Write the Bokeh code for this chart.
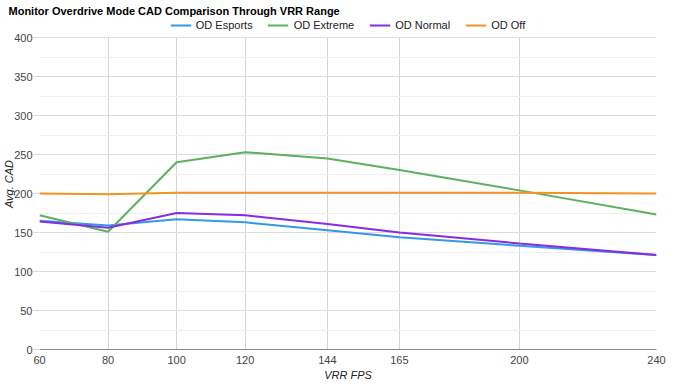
from bokeh.plotting import figure
from bokeh.models import Range1d, FixedTicker, SingleIntervalTicker, Legend, LegendItem
from bokeh.embed import file_html
from bokeh.resources import INLINE

fps = [60, 80, 100, 120, 144, 165, 200, 240]
od_esports = [165, 159, 167, 163, 153, 144, 133, 121]
od_extreme = [172, 151, 240, 253, 245, 230, 204, 173]
od_normal = [164, 156, 175, 172, 161, 150, 136, 121]
od_off = [200, 199, 201, 201, 201, 201, 201, 200]
y_ticks_max = 400

series = [
    ("OD Esports", od_esports, "#3399e6"),
    ("OD Extreme", od_extreme, "#5cb15c"),
    ("OD Normal", od_normal, "#8a2be2"),
    ("OD Off", od_off, "#f29322"),
]

FONT = "Liberation Sans"
FW, FH = 617, 331
HEAD = 19  # px of frame reserved above the 400 line for the legend
y_top = y_ticks_max * FH / (FH - HEAD)

p = figure(frame_width=FW, frame_height=FH, output_backend="svg", toolbar_location=None,
           x_range=Range1d(fps[0], fps[-1]), y_range=Range1d(0, y_top),
           min_border_left=0, min_border_right=10, min_border_top=14, min_border_bottom=0)

p.title.text = "Monitor Overdrive Mode CAD Comparison Through VRR Range"
p.title.text_font = FONT
p.title.text_font_size = "11px"
p.title.text_font_style = "bold"
p.title.text_color = "#000000"
p.title.standoff = 4
p.title.offset = -31

items = []
for name, vals, col in series:
    r = p.line(fps, vals, line_color=col, line_width=2)
    items.append(LegendItem(label=name, renderers=[r]))

legend = Legend(items=items, orientation="horizontal", location="top_center",
                label_text_font=FONT, label_text_font_size="11px", label_text_color="#222222",
                glyph_width=21, glyph_height=10, label_standoff=5, spacing=15,
                padding=0, margin=1, border_line_color=None, background_fill_alpha=0)
p.add_layout(legend)

p.xaxis.ticker = FixedTicker(ticks=fps)
p.yaxis.ticker = SingleIntervalTicker(interval=50, num_minor_ticks=2)
p.yaxis.bounds = (0, y_ticks_max)

p.xaxis.axis_label = "VRR FPS"
p.yaxis.axis_label = "Avg. CAD"
for ax in (p.xaxis, p.yaxis):
    ax.axis_label_text_font = FONT
    ax.axis_label_text_font_size = "11px"
    ax.axis_label_text_font_style = "italic"
    ax.axis_label_text_color = "#222222"
    ax.major_label_text_font = FONT
    ax.major_label_text_font_size = "11px"
    ax.major_label_text_color = "#444444"
    ax.minor_tick_line_color = None

p.xaxis.axis_line_color = "#8a8a8a"
p.xaxis.major_tick_line_color = None
p.xaxis.major_tick_out = 0
p.xaxis.major_tick_in = 0
p.xaxis.major_label_standoff = 6
p.xaxis.axis_label_standoff = 2

p.yaxis.axis_line_color = None
p.yaxis.major_tick_line_color = "#d6d6d6"
p.yaxis.major_tick_out = 6
p.yaxis.major_tick_in = 0
p.yaxis.major_label_standoff = 1
p.yaxis.axis_label_standoff = -4

p.ygrid.grid_line_color = "#dcdcdc"
p.ygrid.minor_grid_line_color = "#efefef"
try:
    p.xgrid.cross_bounds = (0, y_ticks_max)
    p.xgrid.grid_line_color = "#d4d4d4"
except Exception:
    p.xgrid.grid_line_color = None
    p.segment(x0=fps, y0=[0] * len(fps), x1=fps, y1=[y_ticks_max] * len(fps),
              line_color="#d4d4d4", line_width=1, level="underlay")
p.outline_line_color = None
p.background_fill_color = "white"
p.border_fill_color = "white"

open("out.html", "w").write(file_html(p, INLINE))
